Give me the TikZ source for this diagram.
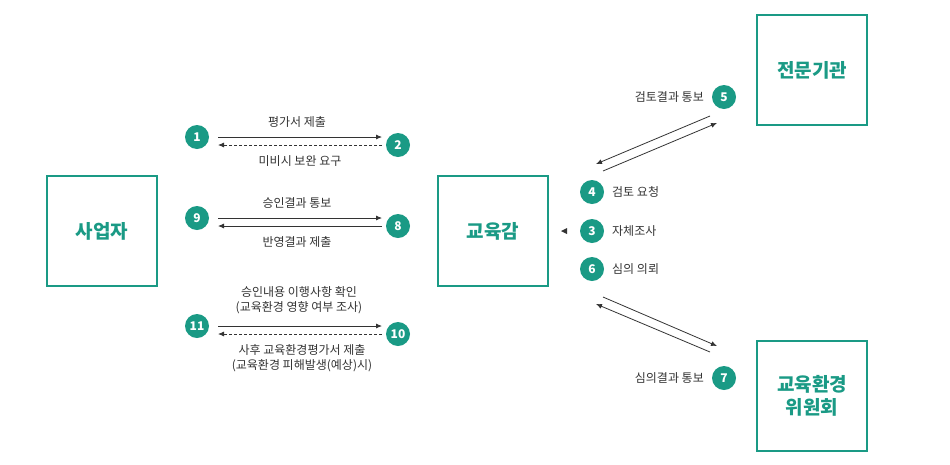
\documentclass[tikz,border=0pt]{standalone}
\usepackage{fontspec}
\setmainfont{Noto Sans CJK KR}
\usetikzlibrary{arrows.meta}
\definecolor{tl}{HTML}{1A9A85}
\definecolor{tx}{HTML}{333333}
\begin{document}
\begin{tikzpicture}[x=1pt,y=-1pt,
 box/.style={draw=tl,line width=1.3pt,minimum width=110pt,minimum height=110pt,text=tl,font=\fontsize{19}{23}\selectfont\bfseries,align=center,inner sep=0},
 num/.style={circle,fill=tl,minimum size=24pt,inner sep=0,text=white,font=\fontsize{12}{14}\selectfont\bfseries},
 lbl/.style={text=tx,font=\fontsize{12}{15}\selectfont,align=center,inner sep=0},
 arr/.style={draw=tx,line width=0.8pt,-{Latex[length=6pt,width=5pt]}},
 darr/.style={arr,dashed,dash pattern=on 3pt off 2pt}]
\useasboundingbox (0,0) rectangle (950,464);
\node[box] (A) at (102,231) {사업자};
\node[box] (B) at (493,231) {교육감};
\node[box] (C) at (812,70) {전문기관};
\node[box] (D) at (812,396) {교육환경\\위원회};
\node[num] (n1) at (197,137) {1};
\node[num] (n2) at (398,145) {2};
\node[num] (n9) at (197,218) {9};
\node[num] (n8) at (398,226) {8};
\node[num] (n11) at (197,326) {11};
\node[num] (n10) at (398,334) {10};
\coordinate (a1s) at (218,137); \coordinate (a1e) at (382,137);
\coordinate (a2s) at (382,145); \coordinate (a2e) at (218,145);
\draw[arr] (a1s) -- (a1e);
\draw[darr] (a2s) -- (a2e);
\node[lbl] (l1) at (297,122) {평가서 제출};
\node[lbl] (l2) at (300,161) {미비시 보완 요구};
\coordinate (a3s) at (218,218); \coordinate (a3e) at (382,218);
\coordinate (a4s) at (382,226); \coordinate (a4e) at (218,226);
\draw[arr] (a3s) -- (a3e);
\draw[arr] (a4s) -- (a4e);
\node[lbl] (l9) at (297,203) {승인결과 통보};
\node[lbl] (l8) at (297,242) {반영결과 제출};
\coordinate (a5s) at (218,326); \coordinate (a5e) at (382,326);
\coordinate (a6s) at (382,334); \coordinate (a6e) at (218,334);
\draw[arr] (a5s) -- (a5e);
\draw[darr] (a6s) -- (a6e);
\node[lbl] (l11) at (299,300) {승인내용 이행사항 확인\\(교육환경 영향 여부 조사)};
\node[lbl] (l10) at (302,358) {사후 교육환경평가서 제출\\(교육환경 피해발생(예상)시)};
\node[num] (n5) at (724,97) {5};
\node[lbl,anchor=east] (l5) at (704,97) {검토결과 통보};
\coordinate (b1s) at (710,116); \coordinate (b1e) at (596,164);
\coordinate (b2s) at (603,171); \coordinate (b2e) at (717,123);
\draw[arr] (b1s) -- (b1e);
\draw[arr] (b2s) -- (b2e);
\node[num] (n4) at (592,192) {4};
\node[lbl,anchor=west] (l4) at (612,192) {검토 요청};
\node[num] (n3) at (592,231) {3};
\node[lbl,anchor=west] (l3) at (612,231) {자체조사};
\fill[tx] (561,231) -- (567,228) -- (567,234) -- cycle;
\node[num] (n6) at (592,269) {6};
\node[lbl,anchor=west] (l6) at (612,269) {심의 의뢰};
\coordinate (c1s) at (603,297); \coordinate (c1e) at (717,346);
\coordinate (c2s) at (710,352); \coordinate (c2e) at (596,304);
\draw[arr] (c1s) -- (c1e);
\draw[arr] (c2s) -- (c2e);
\node[num] (n7) at (724,378) {7};
\node[lbl,anchor=east] (l7) at (704,378) {심의결과 통보};
\end{tikzpicture}
\end{document}
